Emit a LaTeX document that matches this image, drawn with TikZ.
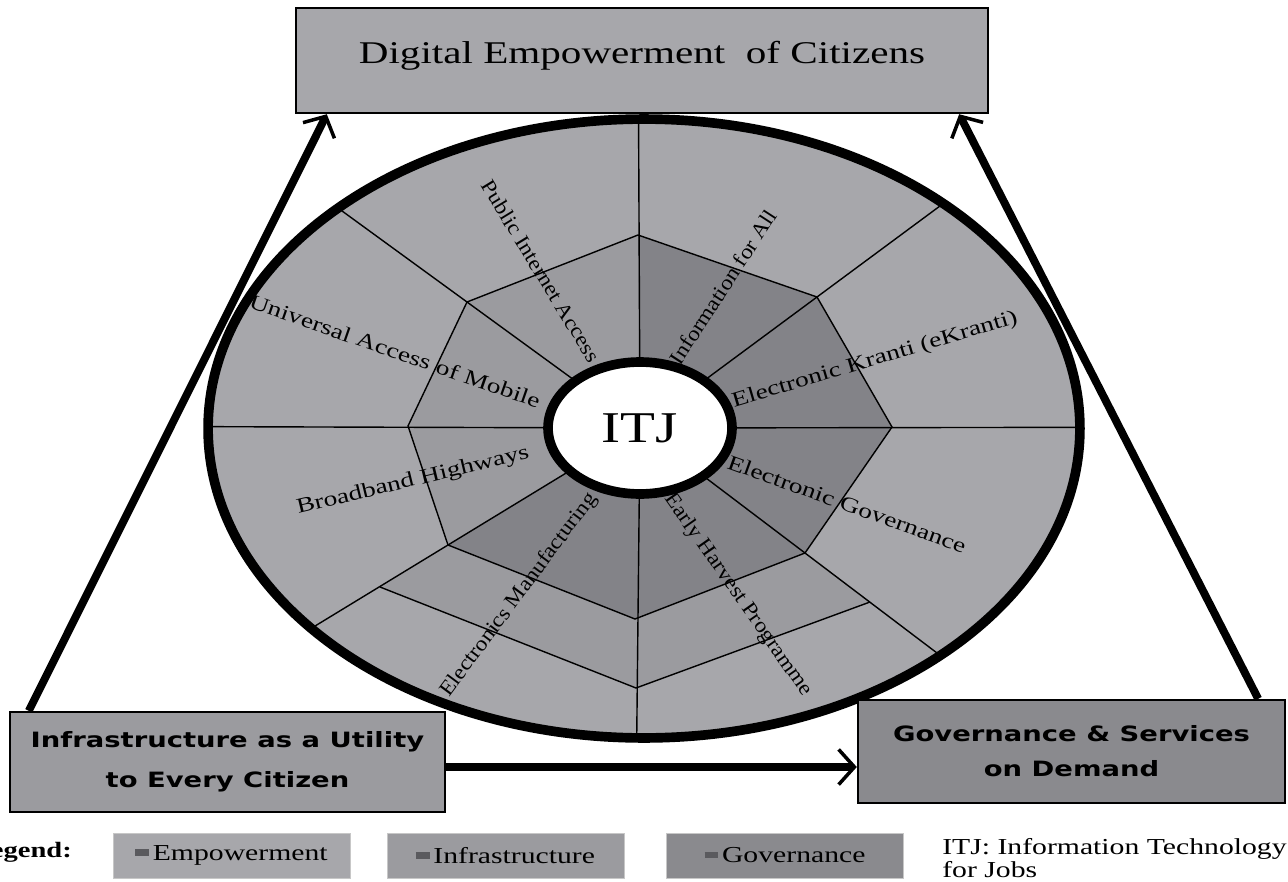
\documentclass[tikz,border=0pt]{standalone}
\usepackage{fontspec}
\setmainfont{Liberation Serif}
\newfontfamily\wideserif[FakeStretch=1.3]{Liberation Serif}
\newfontfamily\midserif[FakeStretch=1.1]{Liberation Serif}
\newfontfamily\boxsans[FakeStretch=1.3]{DejaVu Sans}
\usetikzlibrary{arrows.meta,shapes.geometric}
\definecolor{empgray}{HTML}{A7A7AB}
\definecolor{infgray}{HTML}{9B9B9F}
\definecolor{govgray}{HTML}{8A8A8E}
\definecolor{webdark}{HTML}{838388}
\definecolor{bargray}{HTML}{5A5A5E}
\newcommand{\keybar}{{\color{bargray}\rule[0.2em]{0.6em}{0.3em}}}
\begin{document}
\begin{tikzpicture}[x=0.02cm,y=-0.02cm,
	spoke/.style={line width=0.8pt},
	flat/.style={font=\wideserif\fontsize{12}{14}\selectfont, inner sep=0pt},
	steep/.style={font=\midserif\fontsize{12}{14}\selectfont, inner sep=0pt},
	goal/.style={draw=black, line width=1.4pt, align=center, inner sep=0pt, font=\boxsans\bfseries\fontsize{12}{14}\selectfont},
	key/.style={fill=#1, draw=white!78!black, minimum width=4.74cm, minimum height=0.9cm, font=\wideserif\fontsize{13}{15}\selectfont},
	flow/.style={line width=4.5pt, -{Straight Barb[length=9pt,width=20pt,line width=2pt 0]}}]
		\useasboundingbox (0,0) rectangle (1288,882);
		\fill[white] (0,0) rectangle (1288,882);
		
		\coordinate (o) at (640,428);
		\begin{scope}
			\clip (644,428.5) ellipse [x radius=8.72cm, y radius=6.19cm];
			\fill[empgray] (0,0) rectangle (1288,882);
			\fill[infgray] (o) -- (638,235) -- (467,302) -- (408,426) -- (448,545) -- cycle;
			\fill[webdark] (o) -- (448,545) -- (635,619) -- (805,553) -- (892,427) -- (817,297) -- (638,235) -- cycle;
			\fill[infgray] (448,545) -- (380,587) -- (636,688) -- (870,602) -- (805,553) -- (635,619) -- cycle;
			\draw[spoke] (638,235) -- (817,297) -- (892,427) -- (805,553) -- (635,619) -- (448,545) -- (408,426) -- (467,302) -- cycle;
			\draw[spoke] (380,587) -- (636,688) -- (870,602);
			\foreach \p in {(638,0),(1171,35),(1300,427),(1135,803),(635,900),(64,779),(0,426),(121,50)}
				\draw[spoke] (o) -- \p;
		\end{scope}
		\draw[line width=5.5pt] (644,428.5) ellipse [x radius=8.72cm, y radius=6.19cm];
		\node[ellipse, draw, fill=white, line width=5.5pt, minimum width=3.68cm, minimum height=2.64cm, inner sep=0pt, font=\wideserif\fontsize{25}{28}\selectfont] (itj) at (o) {ITJ};
		
		\node[steep, rotate=-58.6] (pia) at (541,271) {Public Internet Access};
		\node[steep, rotate=57] (ifa) at (723,287) {Information for All};
		\node[flat, rotate=-19.2] (uam) at (395,351) {Universal Access of Mobile};
		\node[flat, rotate=16.5] (ekr) at (875,360) {Electronic Kranti (eKranti)};
		\node[flat, rotate=13.6] (bbh) at (413,481) {Broadband Highways};
		\node[flat, rotate=-19.8] (egv) at (847,504) {Electronic Governance};
		\node[steep, rotate=53.4] (elm) at (519,595) {Electronics Manufacturing};
		\node[steep, rotate=-55] (ehp) at (738,595) {Early Harvest Programme};
		
		\node[goal, fill=empgray, minimum width=13.84cm, minimum height=2.1cm, text height=14pt, text depth=11pt, font=\wideserif\fontsize{18}{20}\selectfont] (digital) at (642,60.5) {Digital Empowerment\ \ of Citizens};
		\node[goal, fill=infgray, minimum width=8.7cm, minimum height=2cm] (infra) at (227.5,762) {Infrastructure as a Utility\\[9pt]to Every Citizen};
		\node[goal, fill=govgray, minimum width=8.54cm, minimum height=2.06cm] (gov) at (1071.5,751.5) {Governance \& Services\\[6pt]on Demand};
		
		\draw[flow] ([xshift=0.4cm]infra.north west) -- ([xshift=0.64cm]digital.south west);
		\draw[flow] ([xshift=-0.56cm]gov.north east) -- ([xshift=-0.6cm]digital.south east);
		\draw[flow] ([yshift=-0.1cm]infra.east) -- ([yshift=-0.1cm]infra.east -| gov.west);
		
		\node[anchor=east, font=\wideserif\bfseries\fontsize{12.5}{15}\selectfont] (legend) at (78,852) {Legend:};
		\node[key=empgray] (kemp) at (231.5,855.5) {\keybar\,Empowerment};
		\node[key=infgray] (kinf) at (505.5,855.5) {\keybar\,Infrastructure};
		\node[key=govgray] (kgov) at (785,855.5) {\keybar\,Governance};
		\node[anchor=west, align=left, inner sep=0pt, font=\wideserif\fontsize{13}{13}\selectfont] (note) at (942,858) {ITJ: Information Technology\\for Jobs};
\end{tikzpicture}
\end{document}
